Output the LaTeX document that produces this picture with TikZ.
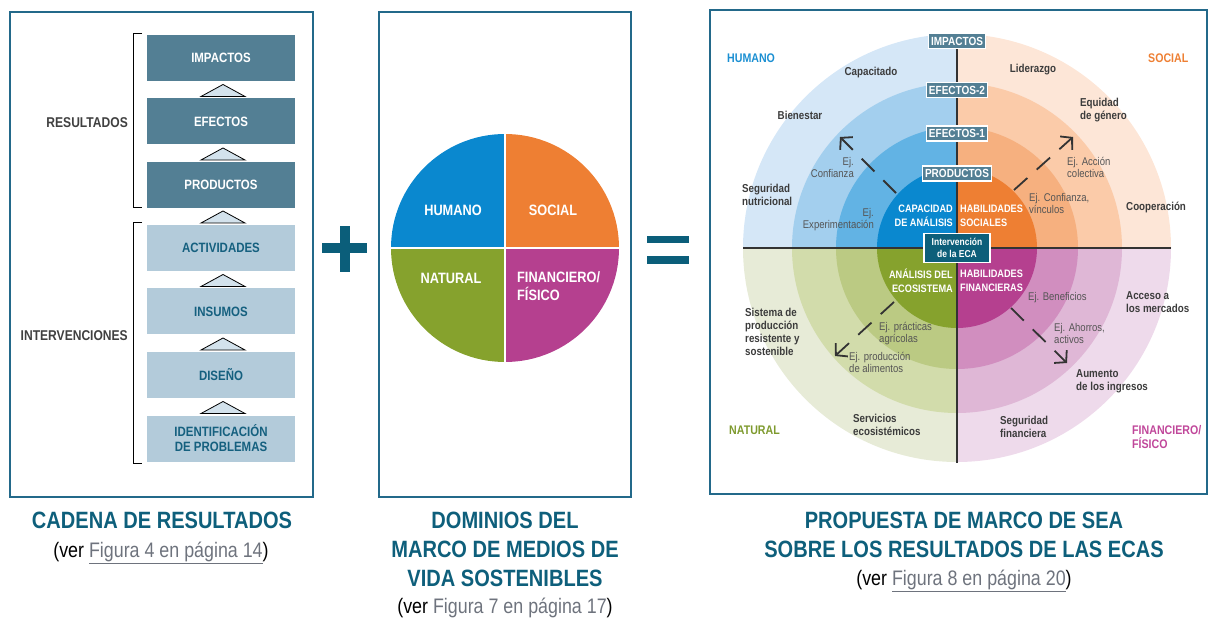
\documentclass[tikz,border=0pt]{standalone}
\usepackage{fontspec}
\setmainfont{Liberation Sans}[FakeStretch=0.85]
\usetikzlibrary{arrows.meta}
\definecolor{cFrame}{HTML}{23698A}
\definecolor{cCap}{HTML}{0E5F7B}
\definecolor{cBoxDark}{HTML}{537F94}
\definecolor{cBoxLight}{HTML}{B3CBDA}
\definecolor{cBoxText}{HTML}{15607F}
\definecolor{cTri}{HTML}{D3E2EC}
\definecolor{cSide}{HTML}{404040}
\definecolor{cLink}{HTML}{6E737D}
\definecolor{cDark}{HTML}{3C3C3C}
\definecolor{cEj}{HTML}{555555}
\definecolor{cAxis}{HTML}{333333}
\definecolor{cArrow}{HTML}{333333}
\definecolor{cEca}{HTML}{0D5F7A}
\definecolor{cPlus}{HTML}{0B5E7A}
\definecolor{pHum}{HTML}{0A88CF}
\definecolor{pSoc}{HTML}{EE7F33}
\definecolor{pNat}{HTML}{86A22D}
\definecolor{pFin}{HTML}{B5408F}
\definecolor{hA}{HTML}{D5E7F7}
\definecolor{hB}{HTML}{A3CFEE}
\definecolor{hC}{HTML}{62B3E4}
\definecolor{sA}{HTML}{FDE6D7}
\definecolor{sB}{HTML}{FBCBA9}
\definecolor{sC}{HTML}{F6B07F}
\definecolor{nA}{HTML}{E7EBD7}
\definecolor{nB}{HTML}{D2DCAB}
\definecolor{nC}{HTML}{BBCA83}
\definecolor{fA}{HTML}{EEDAEB}
\definecolor{fB}{HTML}{DFB7D6}
\definecolor{fC}{HTML}{D18EBF}
\definecolor{qHum}{HTML}{1B8FD2}
\definecolor{qSoc}{HTML}{EE7F33}
\definecolor{qNat}{HTML}{7E9A2E}
\definecolor{qFin}{HTML}{C0479A}
\newcommand{\fsz}[2]{\fontsize{#1}{#2}\selectfont}
\newcommand{\reflink}[1]{\textcolor{cLink}{\underline{#1}}}
\begin{document}
\begin{tikzpicture}[x=1pt,y=-1pt,
  frm/.style={draw=cFrame, line width=2pt},
  dbox/.style={fill=cBoxDark, text=white, font=\bfseries\fsz{13.5}{16}, minimum width=148pt, minimum height=46pt, inner sep=0pt, align=center},
  lbox/.style={dbox, fill=cBoxLight, text=cBoxText},
  tri/.style={fill=cTri, draw=black, line width=0.8pt, line join=miter},
  brk/.style={draw=black, line width=1pt},
  slab/.style={font=\bfseries\fsz{14.2}{17}, text=cSide, inner sep=0pt, anchor=east},
  ctitle/.style={font=\bfseries\fsz{23.6}{29}, text=cCap, align=center, inner sep=0pt},
  cref/.style={font=\fsz{21}{24}, inner sep=0pt},
  plab/.style={font=\bfseries\fsz{15}{18}, text=white, inner sep=0pt, align=left},
  qlab/.style={font=\bfseries\fsz{12.5}{14}, inner sep=0pt, align=left, anchor=west},
  dlab/.style={font=\bfseries\fsz{11.5}{13}, text=cDark, inner sep=0pt, align=left},
  ej/.style={font=\fsz{11.2}{12}, text=cEj, inner sep=0pt, align=left},
  inl/.style={font=\bfseries\fsz{10.8}{14}, text=white, inner sep=0pt},
  rlab/.style={fill=cBoxDark, draw=white, line width=1.2pt, text=white, font=\bfseries\fsz{11.8}{12}, inner xsep=2.5pt, inner ysep=0pt, minimum height=15pt},
  axln/.style={draw=cAxis, line width=1.2pt},
  darr/.style={draw=cArrow, line width=1.8pt, dash pattern=on 18pt off 12.5pt, -{Straight Barb[length=8pt,width=18pt]}}
]
\useasboundingbox (0,0) rectangle (1208,620);

% ---------------- left panel ----------------
\draw[frm] (10,12) rectangle (313,497);
\node[dbox] (imp) at (221,58) {IMPACTOS};
\node[dbox] (efe) at (221,121.5) {EFECTOS};
\node[dbox] (pro) at (221,185) {PRODUCTOS};
\node[lbox] (act) at (221,248) {ACTIVIDADES};
\node[lbox] (ins) at (221,311.5) {INSUMOS};
\node[lbox] (dis) at (221,375) {DISEÑO};
\node[lbox] (ide) at (221,438.5) {IDENTIFICACIÓN\\[-1pt]DE PROBLEMAS};
\foreach \b in {96.5,160,223,286.5,350,413.5}{
  \draw[tri] (201,\b) -- (223,\b-12) -- (245,\b) -- cycle;
}
\draw[brk] (142,34) -- (133,34) -- (133,208) -- (142,208);
\draw[brk] (142,223) -- (133,223) -- (133,463) -- (142,463);
\node[slab] (resl) at (128,123) {RESULTADOS};
\node[slab] (intl) at (128,336) {INTERVENCIONES};
\node[ctitle] (cap1) at (162,520) {CADENA DE RESULTADOS};
\node[cref] (ref1) at (161,553) {(ver \reflink{Figura 4 en página 14})};

% plus sign
\fill[cPlus] (322,243) rectangle (367,253);
\fill[cPlus] (340,226) rectangle (350,272);

% ---------------- middle panel ----------------
\draw[frm] (379,12) rectangle (631,497);
\begin{scope}\clip (505,248) rectangle (380,120); \fill[pHum] (505,248) circle[radius=114]; \end{scope}
\begin{scope}\clip (505,248) rectangle (630,120); \fill[pSoc] (505,248) circle[radius=114]; \end{scope}
\begin{scope}\clip (505,248) rectangle (380,380); \fill[pNat] (505,248) circle[radius=114]; \end{scope}
\begin{scope}\clip (505,248) rectangle (630,380); \fill[pFin] (505,248) circle[radius=114]; \end{scope}
\draw[white, line width=1.5pt] (390,248) -- (620,248);
\draw[white, line width=1.5pt] (505,133) -- (505,363);
\node[plab] (mhum) at (453,210) {HUMANO};
\node[plab] (msoc) at (553,210) {SOCIAL};
\node[plab] (mnat) at (451,278) {NATURAL};
\node[plab, anchor=west] (mfin) at (517,286) {FINANCIERO/\\FÍSICO};
\node[ctitle] (cap2) at (505,549) {DOMINIOS DEL\\MARCO DE MEDIOS DE\\VIDA SOSTENIBLES};
\node[cref] (ref2) at (505,608) {(ver \textcolor{cLink}{Figura 7 en página 17})};

% equals sign
\fill[cPlus] (647,236) rectangle (689,243);
\fill[cPlus] (647,256) rectangle (689,264);

% ---------------- right panel ----------------
\draw[frm] (710,10) rectangle (1207,494);
\begin{scope}\clip (957,248) rectangle (740,30);
  \fill[hA] (957,248) circle[radius=214]; \fill[hB] (957,248) circle[radius=165];
  \fill[hC] (957,248) circle[radius=121]; \fill[pHum] (957,248) circle[radius=80];
\end{scope}
\begin{scope}\clip (957,248) rectangle (1175,30);
  \fill[sA] (957,248) circle[radius=214]; \fill[sB] (957,248) circle[radius=165];
  \fill[sC] (957,248) circle[radius=121]; \fill[pSoc] (957,248) circle[radius=80];
\end{scope}
\begin{scope}\clip (957,248) rectangle (740,466);
  \fill[nA] (957,248) circle[radius=214]; \fill[nB] (957,248) circle[radius=165];
  \fill[nC] (957,248) circle[radius=121]; \fill[pNat] (957,248) circle[radius=80];
\end{scope}
\begin{scope}\clip (957,248) rectangle (1175,466);
  \fill[fA] (957,248) circle[radius=214]; \fill[fB] (957,248) circle[radius=165];
  \fill[fC] (957,248) circle[radius=121]; \fill[pFin] (957,248) circle[radius=80];
\end{scope}
\draw[axln] (743,248) -- (1171,248);
\draw[axln] (957,40) -- (957,463);

\node[rlab] (rimp) at (957,41) {IMPACTOS};
\node[rlab] (ref2b) at (957,90) {EFECTOS-2};
\node[rlab] (ref1b) at (957,133.5) {EFECTOS-1};
\node[rlab] (rpro) at (957,173.5) {PRODUCTOS};
\node[fill=cEca, draw=white, line width=1.2pt, text=white, font=\bfseries\fsz{10}{12}, align=center, inner xsep=3pt, inner ysep=2pt, minimum width=66pt, minimum height=29pt] (eca) at (957,248) {Intervención\\de la ECA};

% inner labels
\node[inl, align=right, anchor=east] (icap) at (953,216) {CAPACIDAD\\DE ANÁLISIS};
\node[inl, align=left, anchor=west] (isoc) at (960,216) {HABILIDADES\\SOCIALES};
\node[inl, align=right, anchor=east] (inat) at (953,280.5) {ANÁLISIS DEL\\ECOSISTEMA};
\node[inl, align=left, anchor=west] (ifin) at (960,280.5) {HABILIDADES\\FINANCIERAS};

% quadrant labels
\node[qlab, text=qHum] (qhum) at (727,58) {HUMANO};
\node[qlab, text=qSoc] (qsoc) at (1148,58) {SOCIAL};
\node[qlab, text=qNat] (qnat) at (729,430) {NATURAL};
\node[qlab, text=qFin] (qfin) at (1132,437) {FINANCIERO/\\FÍSICO};

% HUMANO texts
\node[dlab] (capa) at (871,73) {Capacitado};
\node[dlab] (bien) at (800,115) {Bienestar};
\node[dlab, anchor=west] (segn) at (742,194.5) {Seguridad\\nutricional};
\node[ej, align=right, anchor=east] (ejconf) at (854,167.5) {Ej.\\Confianza};
\node[ej, align=right, anchor=east] (ejexp) at (874,220) {Ej.\\Experimentación};
% SOCIAL texts
\node[dlab] (lide) at (1033,70) {Liderazgo};
\node[dlab, anchor=west] (equi) at (1080,110.5) {Equidad\\de género};
\node[ej, anchor=west] (ejacc) at (1067,167) {Ej. Acción\\colectiva};
\node[ej, anchor=west] (ejvin) at (1029,203) {Ej. Confianza,\\vínculos};
\node[dlab, anchor=west] (coop) at (1126,207) {Cooperación};
% NATURAL texts
\node[dlab, anchor=west] (sist) at (745,331.5) {Sistema de\\producción\\resistente y\\sostenible};
\node[ej, anchor=west] (ejpra) at (879,333.5) {Ej. prácticas\\agrícolas};
\node[ej, anchor=west] (ejprod) at (849,362) {Ej. producción\\de alimentos};
\node[dlab, anchor=west] (serv) at (853,424.5) {Servicios\\ecosistémicos};
% FINANCIERO texts
\node[ej, anchor=west] (ejben) at (1028,298) {Ej. Beneficios};
\node[ej, anchor=west] (ejaho) at (1054,333.5) {Ej. Ahorros,\\activos};
\node[dlab, anchor=west] (acce) at (1126,302) {Acceso a\\los mercados};
\node[dlab, anchor=west] (aume) at (1076,381) {Aumento\\de los ingresos};
\node[dlab, anchor=west] (segf) at (1000,426.5) {Seguridad\\financiera};

% dashed arrows
\coordinate (ha0) at (896,193); \coordinate (ha1) at (840,137);
\coordinate (sa0) at (1014,190); \coordinate (sa1) at (1073,137);
\coordinate (na0) at (894,302); \coordinate (na1) at (835,356);
\coordinate (fa0) at (1011,308); \coordinate (fa1) at (1067,363);
\draw[darr] (ha0) -- (ha1);
\draw[darr] (sa0) -- (sa1);
\draw[darr] (na0) -- (na1);
\draw[darr] (fa0) -- (fa1);

\node[ctitle] (cap3) at (964,534.5) {PROPUESTA DE MARCO DE SEA\\SOBRE LOS RESULTADOS DE LAS ECAS};
\node[cref] (ref3) at (964,581) {(ver \reflink{Figura 8 en página 20})};
\end{tikzpicture}
\end{document}
